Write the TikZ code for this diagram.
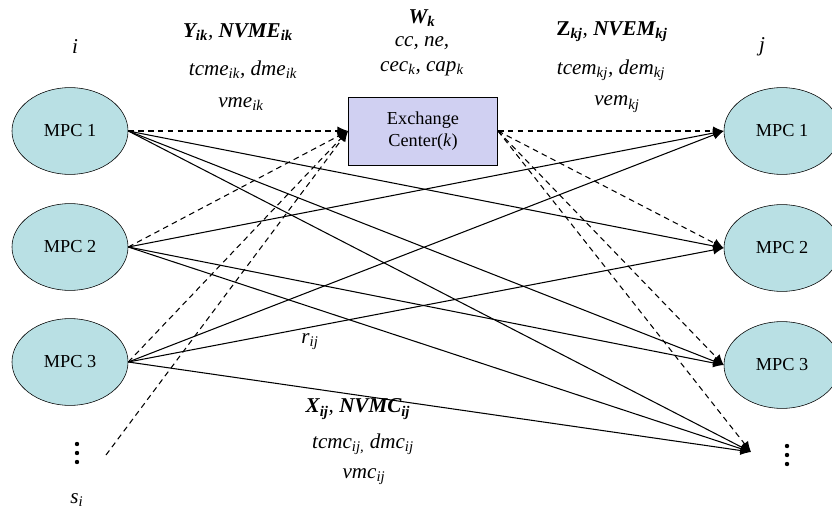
\documentclass[tikz,border=0pt]{standalone}
\usepackage{fontspec}
\setmainfont{Liberation Serif}
\usetikzlibrary{shapes,arrows,arrows.meta}
\definecolor{mpcfill}{RGB}{185,224,228}
\definecolor{centerfill}{RGB}{208,208,242}
\tikzstyle{mpc} = [ellipse, draw, fill=mpcfill, inner sep=0pt,
    minimum width=2.9cm, minimum height=2.17cm, font=\fontsize{13}{15}\selectfont]
\tikzstyle{block} = [rectangle, draw, fill=centerfill, text width=3.5cm, text centered,
    minimum width=3.7cm, minimum height=1.7cm, font=\fontsize{13}{16}\selectfont]
\tikzstyle{lbl} = [inner sep=0pt, font=\fontsize{15}{17}\selectfont\itshape]
\tikzstyle{line} = [draw, line width=0.75pt, -{Latex[length=7.5pt,width=6.5pt]}]
\tikzstyle{dline} = [line, dash pattern=on 4pt off 3pt]

\begin{document}
\begin{tikzpicture}[x=0.025cm, y=-0.025cm]
		\useasboundingbox (0,0) rectangle (832,511);
		% plants i and j
		\node [mpc] (i1) at (70,131) {MPC 1};
		\node [mpc] (i2) at (70,247) {MPC 2};
		\node [mpc] (i3) at (70,362) {MPC 3};
		\node [mpc] (j1) at (782,131) {MPC 1};
		\node [mpc] (j2) at (782,248) {MPC 2};
		\node [mpc] (j3) at (782,365) {MPC 3};
		\node [block] (center) at (423,131) {Exchange\\Center(\textit{k})};
		\coordinate (istart) at (106,455);
		\coordinate (jend) at (751,452);
		% more plants
		\foreach \y in {444,453,462} {
			\fill (77,\y) circle (2.2);
			\fill (787,\y+2) circle (2.2);
		}

		% labels
		\node [lbl] (ilab) at (75,47) {i};
		\node [lbl] (jlab) at (762,47) {j};
		\node [lbl] (slab) at (77,500) {s\textsubscript{i}};
		\node [lbl] (ylab) at (238,32) {\textbf{Y\textsubscript{ik}}, \textbf{NVME\textsubscript{ik}}};
		\node [lbl] (ycost) at (243,70) {tcme\textsubscript{ik}, dme\textsubscript{ik}};
		\node [lbl] (yvar) at (241,104) {vme\textsubscript{ik}};
		\node [lbl] (wlab) at (422,18) {\textbf{W\textsubscript{k}}};
		\node [lbl] (wpar) at (422,43) {cc, ne,};
		\node [lbl] (wcap) at (422,69) {cec\textsubscript{k}, cap\textsubscript{k}};
		\node [lbl] (zlab) at (612,32) {\textbf{\upshape Z\textsubscript{\itshape kj}}, \textbf{NVEM\textsubscript{kj}}};
		\node [lbl] (zcost) at (611,70) {tcem\textsubscript{kj}, dem\textsubscript{kj}};
		\node [lbl] (zvar) at (617,104) {vem\textsubscript{kj}};
		\node [lbl] (rlab) at (310,342) {r\textsubscript{ij}};
		\node [lbl] (xlab) at (358,409) {\textbf{X\textsubscript{ij}}, \textbf{NVMC\textsubscript{ij}}};
		\node [lbl] (xcost) at (363,444) {tcmc\textsubscript{ij,} dmc\textsubscript{ij}};
		\node [lbl] (xvar) at (364,477) {vmc\textsubscript{ij}};

		% flows through the exchange center
		\path [dline] (i1.east) -- (center.west);
		\path [dline] (i2.east) -- (center.west);
		\path [dline] (i3.east) -- (center.west);
		\path [dline] (istart) -- (center.west);
		\path [dline] (center.east) -- (j1.west);
		\path [dline] (center.east) -- (j2.west);
		\path [dline] (center.east) -- (j3.west);
		\path [dline] (center.east) -- (jend);

		% direct flows
		\path [line] (i1.east) -- (j2.west);
		\path [line] (i1.east) -- (j3.west);
		\path [line] (i1.east) -- (jend);
		\path [line] (i2.east) -- (j1.west);
		\path [line] (i2.east) -- (j3.west);
		\path [line] (i2.east) -- (jend);
		\path [line] (i3.east) -- (j1.west);
		\path [line] (i3.east) -- (j2.west);
		\path [line] (i3.east) -- (jend);
	\end{tikzpicture}
\end{document}
